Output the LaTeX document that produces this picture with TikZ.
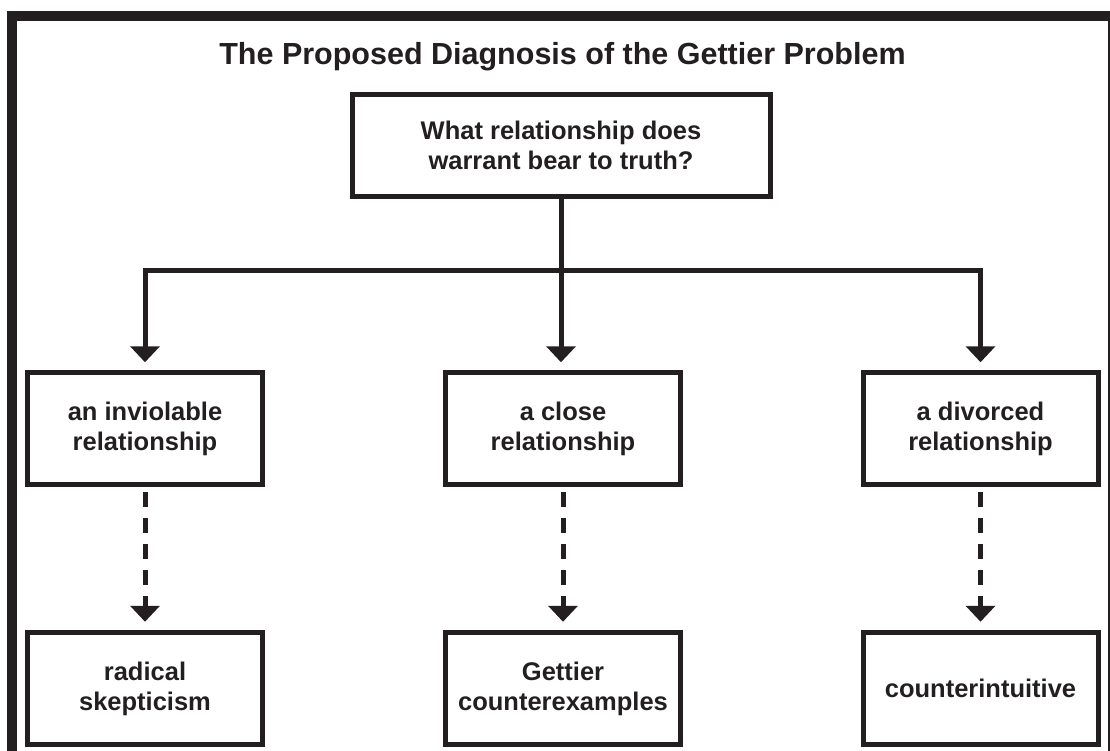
\documentclass[tikz,border=0pt]{standalone}
\usepackage{fontspec}
\setmainfont{Liberation Sans}
\usetikzlibrary{arrows.meta}
\definecolor{ink}{RGB}{35,31,32}
\newcommand{\boxfont}{\bfseries\fontsize{25.5}{30}\selectfont}
\begin{document}
\begin{tikzpicture}[x=1pt,y=-1pt,
  frame/.style={draw=ink,line width=10pt},
  qbox/.style={draw=ink,line width=5pt,inner sep=0pt,align=center,text=ink,font=\boxfont},
  ansbox/.style={qbox,minimum width=235pt,minimum height=112.5pt},
  arr/.style={draw=ink,line width=5pt,-{Triangle[width=29pt,length=16pt]},shorten >=7.5pt},
  darr/.style={arr,dash pattern=on 15pt off 11pt,shorten <=5pt,shorten >=8pt}]
\useasboundingbox (0,0) rectangle (1110,751);
\draw[frame] (12,16) rectangle (1113,770);
\node[anchor=base,text=ink,font=\bfseries\fontsize{30.5}{36}\selectfont] (title) at (562.5,65) {The Proposed Diagnosis of the Gettier Problem};
\node[qbox,minimum width=418pt,minimum height=102pt] (top) at (561,145.5) {What relationship does\\warrant bear to truth?};
\node[ansbox] (b1) at (145,428.5) {an inviolable\\relationship};
\node[ansbox] (b2) at (563,428.5) {a close\\relationship};
\node[ansbox] (b3) at (980.5,428.5) {a divorced\\relationship};
\node[ansbox] (c1) at (145,688.5) {radical\\skepticism};
\node[ansbox] (c2) at (563,688.5) {Gettier\\counterexamples};
\node[ansbox] (c3) at (980.5,688.5) {counterintuitive};
\coordinate (split) at (top.south |- 0,270);
\draw[draw=ink,line width=5pt] (top.south) -- (split);
\draw[arr] (split) -| (b1.north);
\draw[arr] (split) -| (b3.north);
\draw[arr] (split) -- (split |- b2.north);
\draw[darr] (b1.south) -- (c1.north);
\draw[darr] (b2.south) -- (c2.north);
\draw[darr] (b3.south) -- (c3.north);
\end{tikzpicture}
\end{document}
